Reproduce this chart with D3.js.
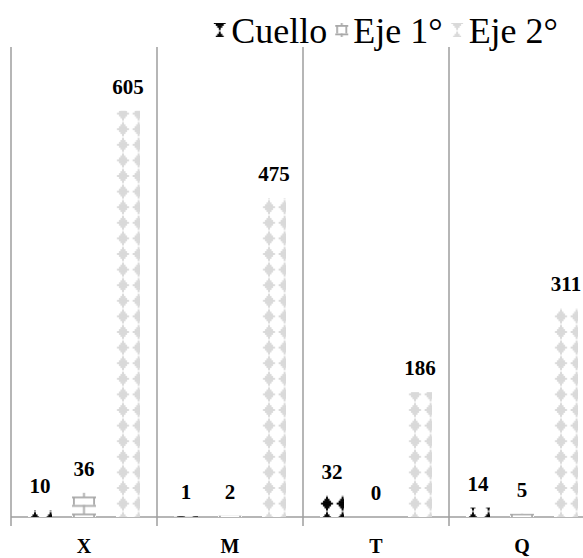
<!DOCTYPE html>
<html>
<head>
<meta charset="utf-8">
<script src="https://cdn.jsdelivr.net/npm/d3@7"></script>
<style>
  body { margin: 0; background: #fff; }
  svg { display: block; }
</style>
</head>
<body>
<svg id="chart" width="583" height="558"></svg>
<script>
// Category names, series names and values per series (same order as categories)
const categories = ["X", "M", "T", "Q"];
const seriesNames = ["Cuello", "Eje 1°", "Eje 2°"];
const cuello = [10, 1, 32, 14];
const eje1 = [36, 2, 0, 5];
const eje2 = [605, 475, 186, 311];
const yMax = 700;

const seriesValues = [cuello, eje1, eje2];
const seriesStyle = [
  { kind: "diamond", color: "#000000" },
  { kind: "brick", color: "#a9a9a9" },
  { kind: "diamond", color: "#d9d9d9" }
];

const plot = { left: 11, top: 47, bottom: 517, step: 146 };
const serif = '"Liberation Serif", "Times New Roman", serif';

const svg = d3.select("#chart");
const defs = svg.append("defs");

const x0 = d3.scaleBand()
  .domain(categories)
  .range([plot.left, plot.left + plot.step * categories.length])
  .padding(0);
const x1 = d3.scaleBand()
  .domain(seriesNames)
  .range([0, x0.bandwidth()])
  .paddingInner(0.4545)
  .paddingOuter(0.386);
const y = d3.scaleLinear().domain([0, yMax]).range([plot.bottom, plot.top]);

// ---- pattern fills ----
const TILE = 15.6;          // diamond lattice period
const DIAMOND_PHASE_Y = 402.2;
const BRICK_H = 17;
const BRICK_PHASE_Y = 496.5;

function diamondPattern(id, px, py, color) {
  const p = defs.append("pattern")
    .attr("id", id)
    .attr("patternUnits", "userSpaceOnUse")
    .attr("x", px).attr("y", py)
    .attr("width", TILE).attr("height", TILE);
  p.append("rect").attr("width", TILE).attr("height", TILE).attr("fill", "#fff");
  const c = TILE / 2;
  // thin tips joining the rows
  p.append("rect").attr("x", c - 0.7).attr("y", 0).attr("width", 1.4).attr("height", TILE)
    .attr("fill", color).attr("opacity", 0.45);
  // stepped diamond, drawn as stacked rows
  [2, 5, 8, 12, 8, 5, 2].forEach((w, i) => {
    p.append("rect")
      .attr("x", c - w / 2).attr("y", c + (i - 3) * 1.9 - 0.95)
      .attr("width", w).attr("height", 1.9)
      .attr("fill", color);
  });
}

function brickPattern(id, px, py, w, color) {
  const p = defs.append("pattern")
    .attr("id", id)
    .attr("patternUnits", "userSpaceOnUse")
    .attr("x", px).attr("y", py)
    .attr("width", w).attr("height", BRICK_H);
  const h = BRICK_H / 2, t = 1.8;
  p.append("rect").attr("width", w).attr("height", BRICK_H).attr("fill", "#fff");
  p.append("rect").attr("x", 0).attr("y", 0).attr("width", w).attr("height", t).attr("fill", color);
  p.append("rect").attr("x", 0).attr("y", h).attr("width", w).attr("height", t).attr("fill", color);
  // side joints in the upper course, middle joint in the lower course
  p.append("rect").attr("x", 1).attr("y", 0).attr("width", t).attr("height", h).attr("fill", color);
  p.append("rect").attr("x", w - t - 1).attr("y", 0).attr("width", t).attr("height", h).attr("fill", color);
  p.append("rect").attr("x", w / 2 - t / 2).attr("y", h).attr("width", t).attr("height", h).attr("fill", color);
}

function fillFor(si, id, bx, bw, phaseY) {
  const st = seriesStyle[si];
  if (st.kind === "diamond") diamondPattern(id, bx - 0.8, phaseY, st.color);
  else brickPattern(id, bx, phaseY, bw, st.color);
  return `url(#${id})`;
}

// ---- gridlines / axes ----
const axisColor = "#9e9e9e";
const gl = svg.append("g");
const boundaries = categories.map(c => x0(c)).concat([x0(categories[categories.length - 1]) + x0.bandwidth()]);
gl.selectAll("line.v").data(boundaries).join("line")
  .attr("x1", d => d).attr("x2", d => d)
  .attr("y1", plot.top).attr("y2", plot.bottom + 9)
  .attr("stroke", axisColor).attr("stroke-width", 1.5);
gl.append("line")
  .attr("x1", plot.left).attr("x2", boundaries[boundaries.length - 1])
  .attr("y1", plot.bottom).attr("y2", plot.bottom)
  .attr("stroke", axisColor).attr("stroke-width", 1.5);

// ---- bars ----
const bars = [];
categories.forEach((c, ci) => {
  seriesNames.forEach((s, si) => {
    bars.push({ c, ci, s, si, v: seriesValues[si][ci] });
  });
});

svg.append("g").selectAll("rect").data(bars).join("rect")
  .attr("x", d => x0(d.c) + x1(d.s))
  .attr("y", d => y(d.v))
  .attr("width", x1.bandwidth())
  .attr("height", d => y(0) - y(d.v))
  .attr("fill", d => {
    const bx = x0(d.c) + x1(d.s);
    const phase = seriesStyle[d.si].kind === "diamond" ? DIAMOND_PHASE_Y : BRICK_PHASE_Y;
    return fillFor(d.si, `bar-${d.ci}-${d.si}`, bx, x1.bandwidth(), phase);
  });

// ---- value labels ----
svg.append("g").selectAll("text").data(bars).join("text")
  .attr("x", d => x0(d.c) + x1(d.s) + x1.bandwidth() / 2)
  .attr("y", d => y(d.v) - 17)
  .attr("text-anchor", "middle")
  .style("font-family", serif)
  .attr("font-weight", "bold")
  .attr("font-size", 21)
  .attr("fill", "#000")
  .text(d => d.v);

// ---- category labels ----
svg.append("g").selectAll("text").data(categories).join("text")
  .attr("x", d => x0(d) + x0.bandwidth() / 2)
  .attr("y", 553)
  .attr("text-anchor", "middle")
  .style("font-family", serif)
  .attr("font-weight", "bold")
  .attr("font-size", 20)
  .attr("fill", "#000")
  .text(d => d);

// ---- legend ----
const legend = svg.append("g");
const iconW = 13, iconH = 14, iconGap = 5, itemGap = 8;
const legendRight = 558, legendBaseline = 43;
const items = seriesNames.map((s, si) => {
  const t = legend.append("text")
    .style("font-family", serif)
    .attr("font-size", 36)
    .attr("fill", "#000")
    .attr("y", legendBaseline)
    .text(s);
  return { s, si, t, w: t.node().getComputedTextLength() };
});
const total = d3.sum(items, d => iconW + iconGap + d.w) + itemGap * (items.length - 1);
let cx = legendRight - total;
items.forEach(it => {
  const ix = cx, iy = 23;
  if (seriesStyle[it.si].kind === "diamond") {
    diamondPattern(`leg-${it.si}`, ix + iconW / 2 - TILE / 2, iy - TILE / 2, seriesStyle[it.si].color);
  } else {
    brickPattern(`leg-${it.si}`, ix, iy + 2, iconW, seriesStyle[it.si].color);
  }
  legend.append("rect")
    .attr("x", ix).attr("y", iy)
    .attr("width", iconW).attr("height", iconH)
    .attr("fill", `url(#leg-${it.si})`);
  it.t.attr("x", ix + iconW + iconGap);
  cx += iconW + iconGap + it.w + itemGap;
});
</script>
</body>
</html>
